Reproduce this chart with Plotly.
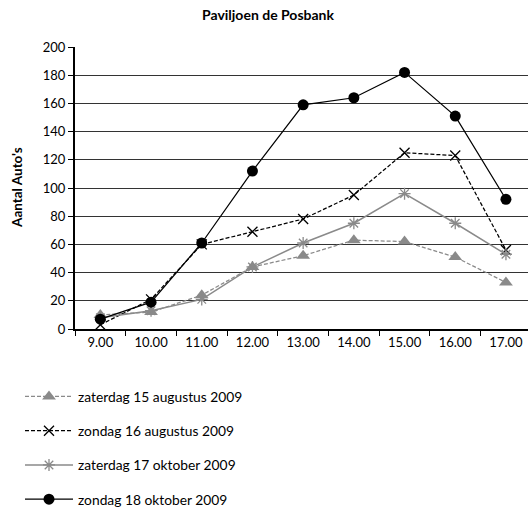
import plotly.graph_objects as go

hours = ["9.00", "10.00", "11.00", "12.00", "13.00", "14.00", "15.00", "16.00", "17.00"]
za_15_aug = [10, 12, 24, 44, 52, 63, 62, 51, 33]
zo_16_aug = [3, 21, 60, 69, 78, 95, 125, 123, 56]
za_17_okt = [8, 13, 21, 44, 61, 75, 96, 75, 53]
zo_18_okt = [7, 19, 61, 112, 159, 164, 182, 151, 92]

names = ["zaterdag 15 augustus 2009", "zondag 16 augustus 2009",
         "zaterdag 17 oktober 2009", "zondag 18 oktober 2009"]

GRAY = "#8a8a8a"
FONT = "Lato"
W, H = 528, 510

fig = go.Figure()
fig.add_trace(go.Scatter(x=hours, y=za_15_aug, name=names[0], mode="lines+markers",
                         line=dict(color=GRAY, width=1.25, dash="4px,2px"),
                         marker=dict(symbol="triangle-up", size=12, color=GRAY),
                         legendgroup="a"))
fig.add_trace(go.Scatter(x=hours, y=zo_16_aug, name=names[1], mode="lines+markers",
                         line=dict(color="black", width=1.25, dash="4px,2px"),
                         marker=dict(symbol="x-thin-open", size=10, color="black",
                                     line=dict(color="black", width=1.3)),
                         legendgroup="b"))
fig.add_trace(go.Scatter(x=hours, y=za_17_okt, name=names[2], mode="lines+markers",
                         line=dict(color=GRAY, width=1.5),
                         marker=dict(symbol="asterisk-open", size=10, color=GRAY,
                                     line=dict(color=GRAY, width=1.3)),
                         legendgroup="c"))
fig.add_trace(go.Scatter(x=hours, y=zo_18_okt, name=names[3], mode="lines+markers",
                         line=dict(color="black", width=1.25),
                         marker=dict(symbol="circle", size=11, color="black"),
                         legendgroup="d"))

fig.update_layout(
    width=W, height=H,
    margin=dict(l=75, r=0, t=47, b=181, autoexpand=False),
    paper_bgcolor="white", plot_bgcolor="white",
    font=dict(family=FONT, size=13, color="black"),
    title=dict(text="<b>Paviljoen de Posbank</b>", x=268 / W, xanchor="center",
               y=1 - 15 / H, yanchor="middle", font=dict(size=14, family=FONT)),
    showlegend=True,
    legend=dict(orientation="v", xref="container", yref="container",
                x=20 / W, xanchor="left", y=1 - 381 / H, yanchor="top",
                itemwidth=48, tracegroupgap=13.3, font=dict(size=13.8, family=FONT),
                bgcolor="rgba(0,0,0,0)"),
    annotations=[dict(text="<b>Aantal Auto's</b>", xref="paper", yref="paper",
                      x=-58 / 453, y=0.5, xanchor="center", yanchor="middle",
                      textangle=-90, showarrow=False,
                      font=dict(size=13.5, family=FONT))],
)
fig.update_xaxes(type="category", range=[-0.5, 8.435], tickson="boundaries",
                 ticks="outside", ticklen=5, tickcolor="black", tickwidth=1,
                 showline=True, linecolor="black", linewidth=2,
                 showgrid=False, zeroline=False, tickangle=0,
                 tickfont=dict(size=13, family=FONT))
fig.update_yaxes(range=[0, 200], dtick=20, ticks="outside", ticklen=5,
                 tickcolor="black", showline=True, linecolor="black", linewidth=2,
                 showgrid=True, gridcolor="#333333", gridwidth=1, zeroline=False,
                 tickfont=dict(size=13, family=FONT))

fig.write_html("out.html", config={"displayModeBar": False},
               post_script="document.body.style.margin='0px';")
